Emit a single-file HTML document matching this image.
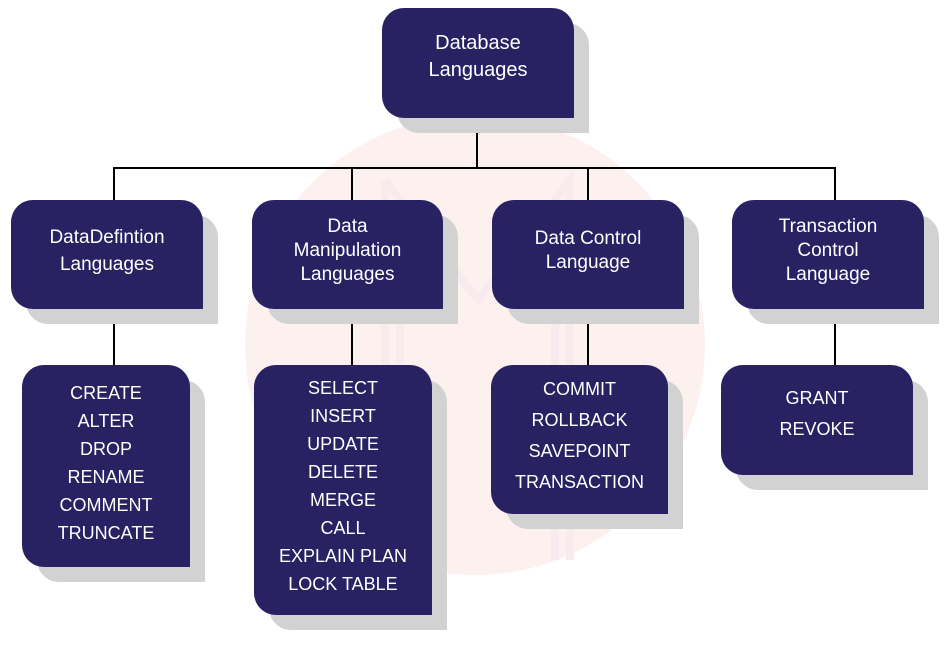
<!DOCTYPE html>
<html><head><meta charset="utf-8"><style>
html,body{margin:0;padding:0;background:#fff;}
body{width:950px;height:657px;position:relative;overflow:hidden;font-family:"Liberation Sans",sans-serif;}
.b{position:absolute;background:#282162;color:#fff;border-radius:22px 22px 0 22px;box-shadow:15px 15px 0 #d2d2d2;display:flex;flex-direction:column;align-items:center;justify-content:center;text-align:center;font-size:19px;line-height:24px;}
.l{font-size:18px;line-height:28px;}
.h{position:absolute;background:#000;}
</style></head><body>
<div style="position:absolute;left:245px;top:115px;width:460px;height:460px;border-radius:50%;background:#fdf1f0;"></div>
<svg style="position:absolute;left:0;top:0" width="950" height="657">
<path d="M385 180 L385 560 M385 180 L478 300 L570 180 L570 560 M400 210 L400 560 M555 210 L555 560" stroke="#f7ebee" stroke-width="8" fill="none"/>
</svg>
<div class="h" style="left:476px;top:118px;width:2px;height:51px"></div>
<div class="h" style="left:113px;top:167px;width:723px;height:2px"></div>
<div class="h" style="left:113px;top:167px;width:2px;height:200px"></div>
<div class="h" style="left:351px;top:167px;width:2px;height:200px"></div>
<div class="h" style="left:587px;top:167px;width:2px;height:200px"></div>
<div class="h" style="left:834px;top:167px;width:2px;height:200px"></div>
<div class="b" style="left:382px;top:8px;width:192px;height:110px;font-size:20px;line-height:27px;justify-content:flex-start;padding-top:22px;box-sizing:border-box">Database<br>Languages</div>
<div class="b" style="left:11px;top:200px;width:192px;height:109px;line-height:27px;padding-bottom:8px;box-sizing:border-box">DataDefintion<br>Languages</div>
<div class="b" style="left:252px;top:200px;width:191px;height:109px;padding-bottom:8px;box-sizing:border-box">Data<br>Manipulation<br>Languages</div>
<div class="b" style="left:492px;top:200px;width:192px;height:109px;padding-bottom:8px;box-sizing:border-box">Data Control<br>Language</div>
<div class="b" style="left:732px;top:200px;width:192px;height:109px;padding-bottom:8px;box-sizing:border-box">Transaction<br>Control<br>Language</div>
<div class="b l" style="left:22px;top:365px;width:168px;height:202px;padding-bottom:6px;box-sizing:border-box">CREATE<br>ALTER<br>DROP<br>RENAME<br>COMMENT<br>TRUNCATE</div>
<div class="b l" style="left:254px;top:365px;width:178px;height:250px;justify-content:flex-start;padding-top:9px;box-sizing:border-box">SELECT<br>INSERT<br>UPDATE<br>DELETE<br>MERGE<br>CALL<br>EXPLAIN PLAN<br>LOCK TABLE</div>
<div class="b l" style="left:491px;top:365px;width:177px;height:149px;line-height:31px;justify-content:flex-start;padding-top:9px;box-sizing:border-box">COMMIT<br>ROLLBACK<br>SAVEPOINT<br>TRANSACTION</div>
<div class="b l" style="left:721px;top:365px;width:192px;height:110px;line-height:31px;justify-content:flex-start;padding-top:18px;box-sizing:border-box">GRANT<br>REVOKE</div>
</body></html>
